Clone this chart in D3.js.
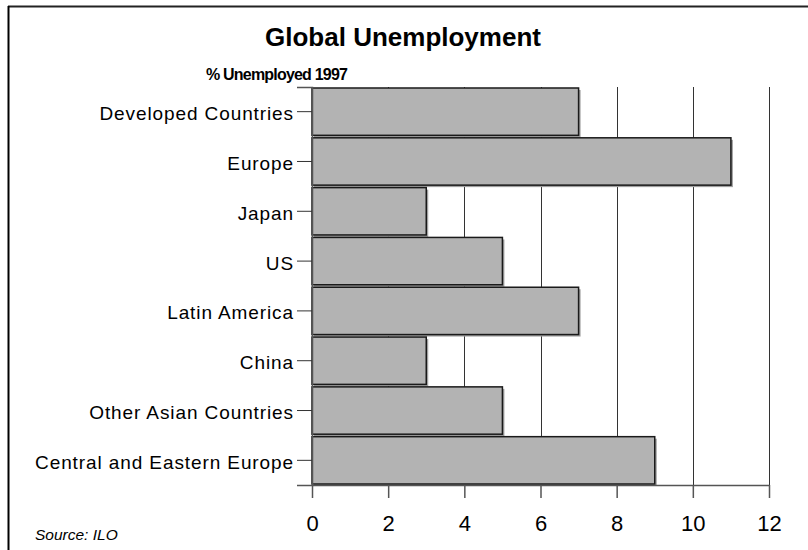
<!DOCTYPE html>
<html>
<head>
<meta charset="utf-8">
<script src="https://cdn.jsdelivr.net/npm/d3@7"></script>
<style>
  body { margin: 0; background: #fff; }
  text { font-family: "Liberation Sans", Arial, sans-serif; fill: #000; }
</style>
</head>
<body>
<svg id="chart" width="808" height="550"></svg>
<script>
const categories = [
  "Developed Countries",
  "Europe",
  "Japan",
  "US",
  "Latin America",
  "China",
  "Other Asian Countries",
  "Central and Eastern Europe"
];
const unemployed = [7, 11, 3, 5, 7, 3, 5, 9];
const xTicks = [0, 2, 4, 6, 8, 10, 12];

const svg = d3.select("#chart");
const plot = { left: 312, right: 769, top: 87, bottom: 485 };

const x = d3.scaleLinear().domain([0, 12]).range([plot.left, plot.right]);
const y = d3.scaleBand()
  .domain(categories)
  .range([plot.top, plot.bottom])
  .paddingInner(0.05)
  .paddingOuter(0.02);

// frame
svg.append("line").attr("x1", 8).attr("x2", 808).attr("y1", 6.5).attr("y2", 6.5)
  .attr("stroke", "#222").attr("stroke-width", 2);
svg.append("line").attr("x1", 8.5).attr("x2", 8.5).attr("y1", 6).attr("y2", 550)
  .attr("stroke", "#000").attr("stroke-width", 2);

// gridlines
svg.append("g")
  .selectAll("line")
  .data(xTicks.slice(1))
  .join("line")
  .attr("x1", (d) => Math.round(x(d)) + 0.5)
  .attr("x2", (d) => Math.round(x(d)) + 0.5)
  .attr("y1", plot.top)
  .attr("y2", plot.bottom)
  .attr("stroke", "#333")
  .attr("stroke-width", 1);

const rows = categories.map((c, i) => ({ category: c, value: unemployed[i] }));

// shadows
svg.append("g")
  .selectAll("rect")
  .data(rows)
  .join("rect")
  .attr("x", x(0) + 2)
  .attr("y", (d) => y(d.category) + 2)
  .attr("width", (d) => x(d.value) - x(0))
  .attr("height", y.bandwidth())
  .attr("fill", "#a0a0a0");

// bars
svg.append("g")
  .selectAll("rect")
  .data(rows)
  .join("rect")
  .attr("x", x(0))
  .attr("y", (d) => y(d.category))
  .attr("width", (d) => x(d.value) - x(0))
  .attr("height", y.bandwidth())
  .attr("fill", "#b3b3b3")
  .attr("stroke", "#1a1a1a")
  .attr("stroke-width", 1.5);

// left axis
const yAxis = svg.append("g")
  .attr("transform", `translate(${plot.left},0)`)
  .call(d3.axisLeft(y).tickSize(15).tickPadding(3));
yAxis.select(".domain").attr("stroke", "#555").attr("stroke-width", 1.5);
yAxis.selectAll(".tick line").attr("stroke", "#333");
yAxis.selectAll(".tick text")
  .style("font-size", "19px")
  .style("letter-spacing", "0.9px")
  .attr("font-family", null)
  .attr("dy", "0.45em");

// bottom axis
const xAxis = svg.append("g")
  .attr("transform", `translate(0,${plot.bottom})`)
  .call(d3.axisBottom(x).tickValues(xTicks).tickSize(13).tickPadding(17).tickSizeOuter(0));
xAxis.select(".domain").attr("stroke", "#555").attr("stroke-width", 1.5);
xAxis.selectAll(".tick line").attr("stroke", "#555").attr("stroke-width", 1.5);
xAxis.selectAll(".tick text").style("font-size", "22px").attr("font-family", null);

// titles
svg.append("text")
  .attr("x", 403).attr("y", 46)
  .attr("text-anchor", "middle")
  .style("font-size", "26px").style("font-weight", "bold")
  .text("Global Unemployment");
svg.append("text")
  .attr("x", 206).attr("y", 80)
  .style("font-size", "16px").style("font-weight", "bold")
  .style("letter-spacing", "-0.8px")
  .text("% Unemployed 1997");
svg.append("text")
  .attr("x", 35).attr("y", 540)
  .style("font-size", "15.5px").style("font-style", "italic")
  .text("Source: ILO");
</script>
</body>
</html>
